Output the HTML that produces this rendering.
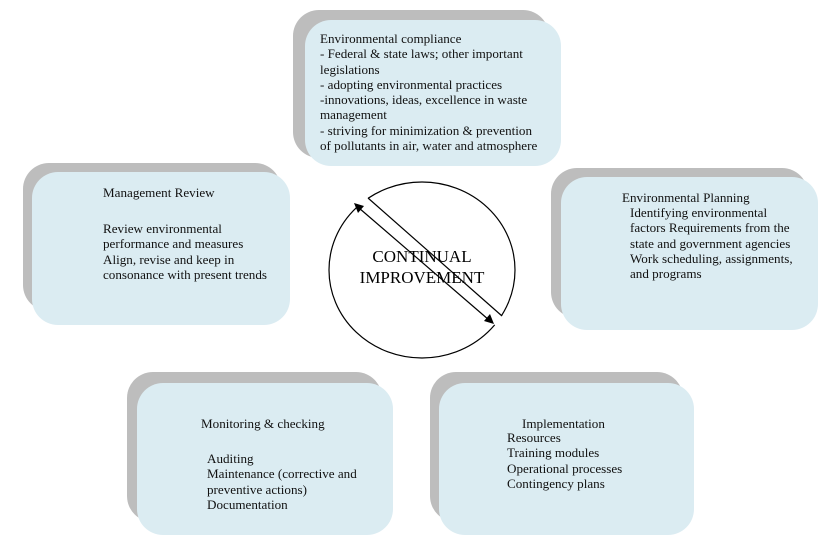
<!DOCTYPE html>
<html><head><style>
body{margin:0;width:824px;height:541px;background:#fff;position:relative;overflow:hidden;font-family:"Liberation Serif",serif;font-size:13.1px;color:#111}
.s{position:absolute;background:#bdbdbd;border-radius:26px}
.b{position:absolute;background:#dbecf2;border-radius:26px}
.t{position:absolute;line-height:15.3px;white-space:nowrap}
</style></head><body>
<div class="s" style="left:293px;top:10px;width:256px;height:148px"></div>
<div class="b" style="left:305px;top:20px;width:256px;height:146px"></div>
<div class="s" style="left:23px;top:163px;width:258px;height:148px"></div>
<div class="b" style="left:32px;top:172px;width:258px;height:153px"></div>
<div class="s" style="left:551px;top:168px;width:257px;height:150px"></div>
<div class="b" style="left:561px;top:177px;width:257px;height:153px"></div>
<div class="s" style="left:127px;top:372px;width:255px;height:150px"></div>
<div class="b" style="left:137px;top:383px;width:256px;height:152px"></div>
<div class="s" style="left:430px;top:372px;width:253px;height:150px"></div>
<div class="b" style="left:439px;top:383px;width:255px;height:152px"></div>

<div class="t" style="left:320px;top:31px">Environmental compliance<br>- Federal &amp; state laws; other important<br>legislations<br>- adopting environmental practices<br>-innovations, ideas, excellence in waste<br>management<br>- striving for minimization &amp; prevention<br>of pollutants in air, water and atmosphere</div>
<div class="t" style="left:103px;top:185px">Management Review</div>
<div class="t" style="left:103px;top:221px">Review environmental<br>performance and measures<br>Align, revise and keep in<br>consonance with present trends</div>
<div class="t" style="left:622px;top:190px">Environmental Planning</div>
<div class="t" style="left:630px;top:205px">Identifying environmental<br>factors Requirements from the<br>state and government agencies<br>Work scheduling, assignments,<br>and programs</div>
<div class="t" style="left:201px;top:416px">Monitoring &amp; checking</div>
<div class="t" style="left:207px;top:451px">Auditing<br>Maintenance (corrective and<br>preventive actions)<br>Documentation</div>
<div class="t" style="left:522px;top:416px">Implementation</div>
<div class="t" style="left:507px;top:430px">Resources<br>Training modules<br>Operational processes<br>Contingency plans</div>

<svg width="824" height="541" style="position:absolute;left:0;top:0">
<ellipse cx="422" cy="270" rx="93" ry="88" fill="#fff" stroke="#000" stroke-width="1.2"/>
<polygon points="360.5,191.4 509.5,322.6 496.6,326.5 351.4,201.5" fill="#fff"/>
<line x1="368" y1="198" x2="502" y2="316" stroke="#000" stroke-width="1.2"/>
<line x1="359" y1="208" x2="489" y2="320" stroke="#000" stroke-width="1.2"/>
<polygon points="354,203 364,206 358,213" fill="#000"/>
<polygon points="494,324 484,321 490,314" fill="#000"/>
<text x="422" y="262" font-family="Liberation Serif,serif" font-size="17" text-anchor="middle">CONTINUAL</text>
<text x="422" y="283" font-family="Liberation Serif,serif" font-size="17" text-anchor="middle">IMPROVEMENT</text>
</svg>
</body></html>
